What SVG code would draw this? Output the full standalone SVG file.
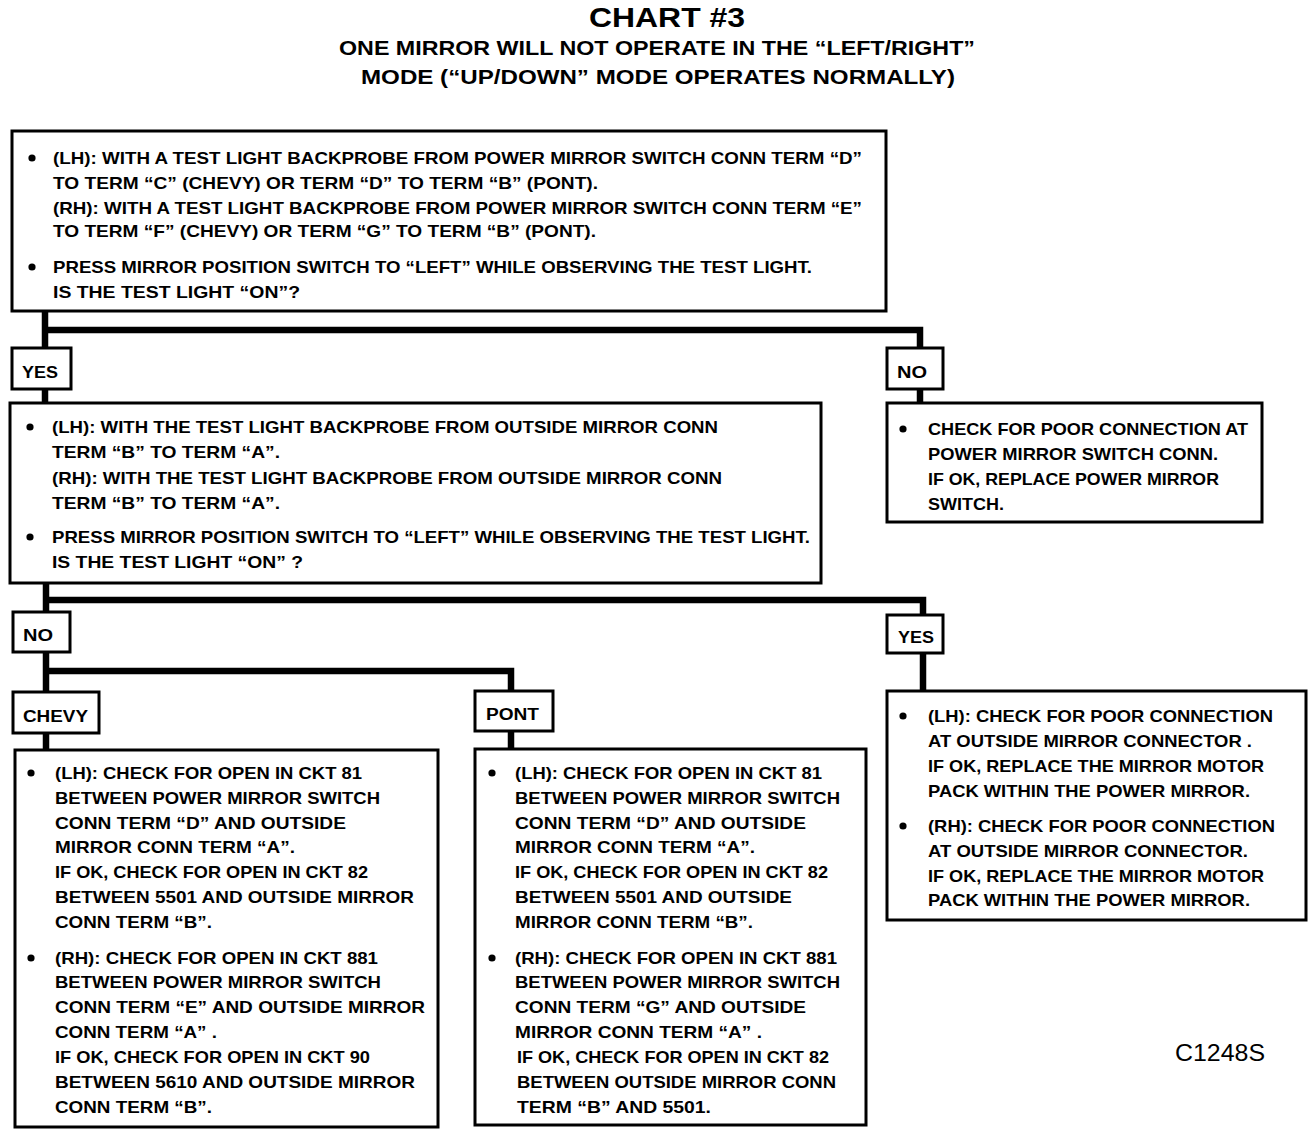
<svg xmlns="http://www.w3.org/2000/svg" width="1312" height="1136" viewBox="0 0 1312 1136">
<style>
  .box { fill: #fff; stroke: #000; stroke-width: 3; }
  .lbl { fill: #fff; stroke: #000; stroke-width: 3; }
  .c { fill: none; stroke: #000; stroke-width: 6.5; stroke-linecap: butt; stroke-linejoin: miter; }
  .t { font-family: "Liberation Sans", Arial, sans-serif; font-weight: bold; font-size: 16.5px; fill: #000; }
  .lt { font-family: "Liberation Sans", Arial, sans-serif; font-weight: bold; font-size: 16px; fill: #000; }
  .h1 { font-family: "Liberation Sans", Arial, sans-serif; font-weight: bold; font-size: 27px; fill: #000; }
  .h2 { font-family: "Liberation Sans", Arial, sans-serif; font-weight: bold; font-size: 21px; fill: #000; }
  .code { font-family: "Liberation Sans", Arial, sans-serif; font-size: 23px; fill: #000; }
</style>
<defs>
  <circle id="dot" r="3.6" fill="#000"/>
</defs>
<rect width="1312" height="1136" fill="#fff"/>

<g id="title">
  <text class="h1" x="667" y="27" text-anchor="middle" textLength="156" lengthAdjust="spacingAndGlyphs">CHART #3</text>
  <text class="h2" x="657" y="55" text-anchor="middle" textLength="636" lengthAdjust="spacingAndGlyphs">ONE MIRROR WILL NOT OPERATE IN THE “LEFT/RIGHT”</text>
  <text class="h2" x="658" y="84" text-anchor="middle" textLength="594" lengthAdjust="spacingAndGlyphs">MODE (“UP/DOWN” MODE OPERATES NORMALLY)</text>
</g>

<g id="connectors">
  <polyline class="c" points="45,311 45,348"/>
  <polyline class="c" points="45,389 45,403"/>
  <polyline class="c" points="45,330 920,330 920,348"/>
  <polyline class="c" points="920,389 920,403"/>
  <polyline class="c" points="46,583 46,612"/>
  <polyline class="c" points="46,600 923,600 923,615"/>
  <polyline class="c" points="923,652 923,690"/>
  <polyline class="c" points="46,652 46,692"/>
  <polyline class="c" points="46,671 511,671 511,691"/>
  <polyline class="c" points="511,731 511,749"/>
  <polyline class="c" points="46,733 46,750"/>
</g>

<g id="node-q1">
  <rect class="box" x="12" y="131" width="874" height="180"/>
  <use href="#dot" x="32" y="158"/>
  <text class="t" x="53" y="164" textLength="809" lengthAdjust="spacingAndGlyphs">(LH):  WITH A TEST LIGHT BACKPROBE FROM POWER MIRROR SWITCH CONN TERM “D”</text>
  <text class="t" x="53" y="189" textLength="545" lengthAdjust="spacingAndGlyphs">TO TERM “C” (CHEVY) OR TERM “D” TO TERM “B” (PONT).</text>
  <text class="t" x="53" y="214" textLength="809" lengthAdjust="spacingAndGlyphs">(RH):  WITH A TEST LIGHT BACKPROBE FROM POWER MIRROR SWITCH CONN TERM “E”</text>
  <text class="t" x="53" y="237" textLength="543" lengthAdjust="spacingAndGlyphs">TO TERM “F” (CHEVY) OR TERM “G” TO TERM “B” (PONT).</text>
  <use href="#dot" x="32" y="267"/>
  <text class="t" x="53" y="273" textLength="759" lengthAdjust="spacingAndGlyphs">PRESS MIRROR  POSITION SWITCH TO “LEFT” WHILE OBSERVING THE TEST LIGHT.</text>
  <text class="t" x="53" y="298" textLength="247" lengthAdjust="spacingAndGlyphs">IS THE TEST LIGHT “ON”?</text>
</g>

<g id="label-yes1">
  <rect class="lbl" x="12" y="348" width="59" height="41"/>
  <text class="lt" x="22" y="378" textLength="36" lengthAdjust="spacingAndGlyphs">YES</text>
</g>

<g id="label-no1">
  <rect class="lbl" x="887" y="348" width="56" height="41"/>
  <text class="lt" x="897" y="378" textLength="30" lengthAdjust="spacingAndGlyphs">NO</text>
</g>

<g id="node-q2">
  <rect class="box" x="10" y="403" width="811" height="180"/>
  <use href="#dot" x="30" y="427"/>
  <text class="t" x="52" y="433" textLength="666" lengthAdjust="spacingAndGlyphs">(LH):  WITH THE TEST LIGHT BACKPROBE FROM OUTSIDE MIRROR CONN</text>
  <text class="t" x="52" y="458" textLength="228" lengthAdjust="spacingAndGlyphs">TERM “B” TO TERM “A”.</text>
  <text class="t" x="52" y="484" textLength="670" lengthAdjust="spacingAndGlyphs">(RH):  WITH THE TEST LIGHT BACKPROBE FROM OUTSIDE MIRROR CONN</text>
  <text class="t" x="52" y="509" textLength="228" lengthAdjust="spacingAndGlyphs">TERM “B” TO TERM “A”.</text>
  <use href="#dot" x="30" y="537"/>
  <text class="t" x="52" y="543" textLength="758" lengthAdjust="spacingAndGlyphs">PRESS MIRROR POSITION SWITCH TO “LEFT” WHILE OBSERVING THE TEST  LIGHT.</text>
  <text class="t" x="52" y="568" textLength="251" lengthAdjust="spacingAndGlyphs">IS THE TEST LIGHT “ON” ?</text>
</g>

<g id="node-switch">
  <rect class="box" x="887" y="403" width="375" height="119"/>
  <use href="#dot" x="903" y="429"/>
  <text class="t" x="928" y="435" textLength="320" lengthAdjust="spacingAndGlyphs">CHECK FOR POOR CONNECTION AT</text>
  <text class="t" x="928" y="460" textLength="290" lengthAdjust="spacingAndGlyphs">POWER MIRROR SWITCH CONN.</text>
  <text class="t" x="928" y="485" textLength="291" lengthAdjust="spacingAndGlyphs">IF OK, REPLACE POWER MIRROR</text>
  <text class="t" x="928" y="510" textLength="76" lengthAdjust="spacingAndGlyphs">SWITCH.</text>
</g>

<g id="label-no2">
  <rect class="lbl" x="13" y="612" width="57" height="40"/>
  <text class="lt" x="23" y="641" textLength="30" lengthAdjust="spacingAndGlyphs">NO</text>
</g>

<g id="label-yes2">
  <rect class="lbl" x="887" y="615" width="56" height="38"/>
  <text class="lt" x="898" y="643" textLength="36" lengthAdjust="spacingAndGlyphs">YES</text>
</g>

<g id="label-chevy">
  <rect class="lbl" x="13" y="692" width="86" height="41"/>
  <text class="lt" x="23" y="722" textLength="65" lengthAdjust="spacingAndGlyphs">CHEVY</text>
</g>

<g id="label-pont">
  <rect class="lbl" x="475" y="691" width="78" height="40"/>
  <text class="lt" x="486" y="720" textLength="53" lengthAdjust="spacingAndGlyphs">PONT</text>
</g>

<g id="node-chevy">
  <rect class="box" x="15" y="750" width="423" height="377"/>
  <use href="#dot" x="31" y="773"/>
  <text class="t" x="55" y="779" textLength="307" lengthAdjust="spacingAndGlyphs">(LH):  CHECK FOR OPEN IN CKT 81</text>
  <text class="t" x="55" y="804" textLength="325" lengthAdjust="spacingAndGlyphs">BETWEEN POWER MIRROR SWITCH</text>
  <text class="t" x="55" y="829" textLength="291" lengthAdjust="spacingAndGlyphs">CONN TERM “D”  AND OUTSIDE</text>
  <text class="t" x="55" y="853" textLength="240" lengthAdjust="spacingAndGlyphs">MIRROR CONN TERM “A”.</text>
  <text class="t" x="55" y="878" textLength="313" lengthAdjust="spacingAndGlyphs">IF OK, CHECK FOR OPEN IN CKT 82</text>
  <text class="t" x="55" y="903" textLength="359" lengthAdjust="spacingAndGlyphs">BETWEEN 5501 AND OUTSIDE MIRROR</text>
  <text class="t" x="55" y="928" textLength="157" lengthAdjust="spacingAndGlyphs">CONN TERM “B”.</text>
  <use href="#dot" x="31" y="958"/>
  <text class="t" x="55" y="964" textLength="323" lengthAdjust="spacingAndGlyphs">(RH):  CHECK FOR OPEN IN CKT 881</text>
  <text class="t" x="55" y="988" textLength="326" lengthAdjust="spacingAndGlyphs">BETWEEN POWER MIRROR SWITCH</text>
  <text class="t" x="55" y="1013" textLength="370" lengthAdjust="spacingAndGlyphs">CONN TERM “E” AND OUTSIDE MIRROR</text>
  <text class="t" x="55" y="1038" textLength="162" lengthAdjust="spacingAndGlyphs">CONN TERM “A” .</text>
  <text class="t" x="55" y="1063" textLength="315" lengthAdjust="spacingAndGlyphs">IF OK, CHECK FOR OPEN IN CKT 90</text>
  <text class="t" x="55" y="1088" textLength="360" lengthAdjust="spacingAndGlyphs">BETWEEN 5610 AND OUTSIDE MIRROR</text>
  <text class="t" x="55" y="1113" textLength="157" lengthAdjust="spacingAndGlyphs">CONN TERM “B”.</text>
</g>

<g id="node-pont">
  <rect class="box" x="475" y="749" width="391" height="376"/>
  <use href="#dot" x="492" y="773"/>
  <text class="t" x="515" y="779" textLength="307" lengthAdjust="spacingAndGlyphs">(LH):  CHECK FOR OPEN IN CKT 81</text>
  <text class="t" x="515" y="804" textLength="325" lengthAdjust="spacingAndGlyphs">BETWEEN POWER MIRROR SWITCH</text>
  <text class="t" x="515" y="829" textLength="291" lengthAdjust="spacingAndGlyphs">CONN TERM “D” AND OUTSIDE</text>
  <text class="t" x="515" y="853" textLength="240" lengthAdjust="spacingAndGlyphs">MIRROR CONN TERM “A”.</text>
  <text class="t" x="515" y="878" textLength="313" lengthAdjust="spacingAndGlyphs">IF OK, CHECK FOR OPEN IN CKT 82</text>
  <text class="t" x="515" y="903" textLength="277" lengthAdjust="spacingAndGlyphs">BETWEEN 5501 AND OUTSIDE</text>
  <text class="t" x="515" y="928" textLength="238" lengthAdjust="spacingAndGlyphs">MIRROR CONN TERM “B”.</text>
  <use href="#dot" x="492" y="958"/>
  <text class="t" x="515" y="964" textLength="322" lengthAdjust="spacingAndGlyphs">(RH):  CHECK FOR OPEN IN CKT 881</text>
  <text class="t" x="515" y="988" textLength="325" lengthAdjust="spacingAndGlyphs">BETWEEN POWER MIRROR SWITCH</text>
  <text class="t" x="515" y="1013" textLength="291" lengthAdjust="spacingAndGlyphs">CONN TERM “G” AND OUTSIDE</text>
  <text class="t" x="515" y="1038" textLength="247" lengthAdjust="spacingAndGlyphs">MIRROR CONN TERM “A” .</text>
  <text class="t" x="517" y="1063" textLength="312" lengthAdjust="spacingAndGlyphs">IF OK, CHECK FOR OPEN IN CKT 82</text>
  <text class="t" x="517" y="1088" textLength="319" lengthAdjust="spacingAndGlyphs">BETWEEN OUTSIDE MIRROR CONN</text>
  <text class="t" x="517" y="1113" textLength="194" lengthAdjust="spacingAndGlyphs">TERM “B” AND 5501.</text>
</g>

<g id="node-motor">
  <rect class="box" x="887" y="691" width="419" height="229"/>
  <use href="#dot" x="903" y="716"/>
  <text class="t" x="928" y="722" textLength="345" lengthAdjust="spacingAndGlyphs">(LH):  CHECK FOR POOR CONNECTION</text>
  <text class="t" x="928" y="747" textLength="324" lengthAdjust="spacingAndGlyphs">AT OUTSIDE MIRROR CONNECTOR .</text>
  <text class="t" x="928" y="772" textLength="336" lengthAdjust="spacingAndGlyphs">IF OK, REPLACE THE MIRROR MOTOR</text>
  <text class="t" x="928" y="797" textLength="322" lengthAdjust="spacingAndGlyphs">PACK WITHIN THE POWER MIRROR.</text>
  <use href="#dot" x="903" y="826"/>
  <text class="t" x="928" y="832" textLength="347" lengthAdjust="spacingAndGlyphs">(RH):  CHECK FOR POOR CONNECTION</text>
  <text class="t" x="928" y="857" textLength="320" lengthAdjust="spacingAndGlyphs">AT OUTSIDE MIRROR CONNECTOR.</text>
  <text class="t" x="928" y="882" textLength="336" lengthAdjust="spacingAndGlyphs">IF OK, REPLACE THE MIRROR MOTOR</text>
  <text class="t" x="928" y="906" textLength="322" lengthAdjust="spacingAndGlyphs">PACK WITHIN THE POWER MIRROR.</text>
</g>

<g id="code">
  <text class="code" x="1175" y="1061" textLength="90" lengthAdjust="spacingAndGlyphs">C1248S</text>
</g>
</svg>
